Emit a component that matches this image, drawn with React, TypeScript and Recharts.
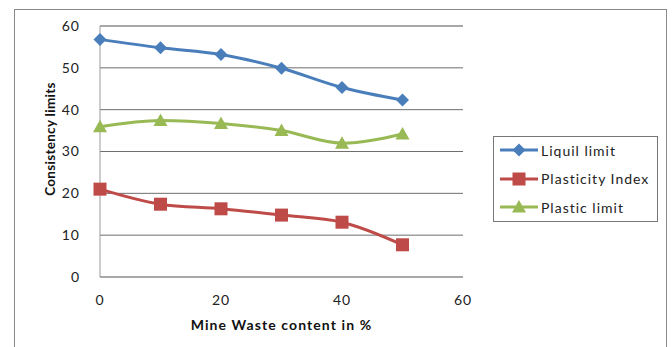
import React from "react";
import {
  LineChart,
  Line,
  XAxis,
  YAxis,
  CartesianGrid,
  Legend,
  Label,
  ReferenceLine,
} from "recharts";

const wasteContent = [0, 10, 20, 30, 40, 50];
const liquidLimit = [56.8, 54.8, 53.2, 49.9, 45.3, 42.3];
const plasticityIndex = [21.0, 17.4, 16.3, 14.8, 13.1, 7.7];
const plasticLimit = [35.9, 37.4, 36.7, 35.0, 32.0, 34.2];
const xTicks = [0, 20, 40, 60];
const yTicks = [0, 10, 20, 30, 40, 50, 60];

const series = [
  { key: "liquid", name: "Liquil limit", color: "#4A7EBB", shape: "diamond" },
  { key: "pi", name: "Plasticity Index", color: "#BE4B48", shape: "square" },
  { key: "plastic", name: "Plastic limit", color: "#98B954", shape: "triangle" },
];

const data = wasteContent.map((x, i) => ({
  x,
  liquid: liquidLimit[i],
  pi: plasticityIndex[i],
  plastic: plasticLimit[i],
}));

const FONT = "Lato, 'Open Sans', sans-serif";
const tickStyle = { fill: "#222", fontSize: 14, fontFamily: FONT, letterSpacing: 1 };

function Marker({ cx, cy, shape, color }: any) {
  if (cx == null || cy == null) return null;
  if (shape === "diamond") {
    const r = 6.5;
    return (
      <path
        d={`M${cx},${cy - r}L${cx + r},${cy}L${cx},${cy + r}L${cx - r},${cy}Z`}
        fill={color}
      />
    );
  }
  if (shape === "square") {
    const r = 6.5;
    return <rect x={cx - r} y={cy - r} width={r * 2} height={r * 2} fill={color} />;
  }
  const w = 7;
  return (
    <path
      d={`M${cx},${cy - 7}L${cx + w},${cy + 5.5}L${cx - w},${cy + 5.5}Z`}
      fill={color}
    />
  );
}

function LegendBox() {
  return (
    <div
      style={{
        border: "1px solid #777",
        width: 165,
        height: 86,
        boxSizing: "border-box",
        padding: "0 0 0 6px",
        background: "#fff",
        fontFamily: FONT,
        fontSize: 14,
        letterSpacing: 1,
        color: "#222",
      }}
    >
      {series.map((s, i) => (
        <div key={s.key} style={{ display: "flex", alignItems: "center", height: 28.5, marginTop: i === 0 ? -1 : 0 }}>
          <svg width={40} height={16}>
            <line x1={0} y1={8} x2={38} y2={8} stroke={s.color} strokeWidth={3} />
            <Marker cx={19} cy={8} shape={s.shape} color={s.color} />
          </svg>
          <span style={{ marginLeft: 1 }}>{s.name}</span>
        </div>
      ))}
    </div>
  );
}

function YTitle() {
  const x = 50;
  const y = 139;
  return (
    <text
      x={x}
      y={y}
      transform={`rotate(-90, ${x}, ${y})`}
      textAnchor="middle"
      dominantBaseline="central"
      style={{ fontWeight: "bold", fontSize: 13.5, fill: "#111", fontFamily: FONT, letterSpacing: 0.3 }}
    >
      Consistency limits
    </text>
  );
}

export default function App() {
  return (
    <div style={{ position: "absolute", left: 0, top: 0, width: 672, height: 347, background: "#fff", overflow: "hidden" }}>
      <div
        style={{
          position: "absolute",
          left: 14,
          top: 9,
          width: 651,
          height: 360,
          border: "1.5px solid #8a8a8a",
        }}
      />
      <LineChart
        width={672}
        height={347}
        data={data}
        margin={{ top: 26, right: 209, bottom: 10, left: 40 }}
        style={{ position: "absolute", left: 0, top: 0 }}
      >
        <CartesianGrid vertical={false} stroke="#6e6e6e" strokeWidth={1} />
        <XAxis
          dataKey="x"
          type="number"
          domain={[0, 60]}
          ticks={xTicks}
          height={60}
          tickLine={false}
          axisLine={{ stroke: "#999" }}
          tick={tickStyle}
          tickMargin={12}
        >
          <Label
            value="Mine Waste content in %"
            position="insideBottom"
            offset={7}
            style={{ fontWeight: "bold", fontSize: 14, fill: "#111", fontFamily: FONT, letterSpacing: 1.1 }}
          />
        </XAxis>
        <YAxis
          type="number"
          domain={[0, 60]}
          ticks={yTicks}
          width={60}
          tickLine={false}
          axisLine={{ stroke: "#999" }}
          tick={tickStyle}
          tickMargin={14}
        >
          <Label content={<YTitle />} />
        </YAxis>
        {/* right and top frame of the plot area */}
        <YAxis yAxisId="frame" orientation="right" width={0} tick={false} tickLine={false} axisLine={{ stroke: "#999" }} />
        <ReferenceLine y={60} stroke="#999" />
        {series.map((s) => (
          <Line
            key={s.key}
            dataKey={s.key}
            name={s.name}
            type="monotone"
            stroke={s.color}
            strokeWidth={3}
            isAnimationActive={false}
            dot={(p: any) => <Marker key={`${s.key}-${p.index}`} cx={p.cx} cy={p.cy} shape={s.shape} color={s.color} />}
            activeDot={false}
          />
        ))}
        <Legend
          layout="vertical"
          align="center"
          verticalAlign="middle"
          content={() => <LegendBox />}
          wrapperStyle={{ left: 493, top: 136, width: 165, height: 86 }}
        />
      </LineChart>
    </div>
  );
}
